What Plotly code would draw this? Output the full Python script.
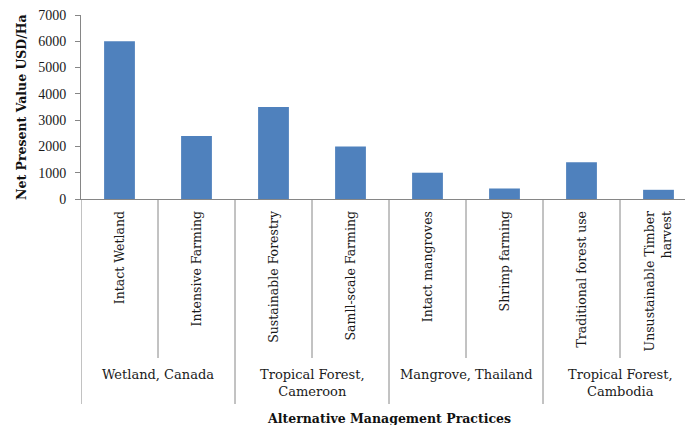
import plotly.graph_objects as go

# ---- data ----
groups = ["Wetland, Canada", "Tropical Forest,<br>Cameroon",
          "Mangrove, Thailand", "Tropical Forest,<br>Cambodia"]
practices = ["Intact Wetland", "Intensive Farming", "Sustainable Forestry",
             "Samll-scale Farming", "Intact mangroves", "Shrimp farming",
             "Traditional forest use", "Unsustainable Timber<br>harvest"]
group_size = [2, 2, 2, 2]
npv = [6000, 2400, 3500, 2000, 1000, 400, 1400, 350]
y_ticks = [0, 1000, 2000, 3000, 4000, 5000, 6000, 7000]

# ---- layout geometry (pixels) ----
W, H = 685, 425
ML, MT, MB, MR = 81, 15, 226, 0
plot_h = H - MT - MB          # 184
cat_px = 77.0                 # width of one category in the reference
plot_w = W - ML - MR
x_max = -0.5 + plot_w / cat_px

def py(px_below_axis):
    """paper y for a pixel offset below the x axis"""
    return -px_below_axis / plot_h

FONT = "DejaVu Serif"
AX = "#868686"

fig = go.Figure()
fig.add_trace(go.Bar(
    x=practices, y=npv,
    marker=dict(color="#4F81BD", line=dict(width=0)),
    width=0.4,
))

shapes = []
# item separators (short) and group dividers (long)
edges = [0]
for s in group_size:
    edges.append(edges[-1] + s)
group_edges = set(edges)
for i in range(len(practices) + 1):
    xb = i - 0.5
    length = 205 if i in group_edges else 159
    shapes.append(dict(type="line", xref="x", yref="paper",
                       x0=xb, x1=xb, y0=0, y1=py(length),
                       line=dict(color=AX, width=1)))

annotations = []
for gi, g in enumerate(groups):
    center = (edges[gi] + edges[gi + 1] - 1) / 2
    annotations.append(dict(
        x=center, xref="x", y=py(166), yref="paper",
        text=g, showarrow=False, xanchor="center", yanchor="top",
        font=dict(family=FONT, size=13, color="#1a1a1a"), align="center"))

annotations.append(dict(
    x=(len(practices) - 1) / 2, xref="x", y=py(219), yref="paper",
    text="<b>Alternative Management Practices</b>", showarrow=False,
    xanchor="center", yanchor="middle",
    font=dict(family=FONT, size=12.5, color="#111111")))
annotations.append(dict(
    x=-(ML - 21) / plot_w, xref="paper", y=0.5, yref="paper",
    text="<b>Net Present Value USD/Ha</b>", showarrow=False, textangle=-90,
    xanchor="center", yanchor="middle",
    font=dict(family=FONT, size=12.5, color="#111111")))

fig.update_layout(
    width=W, height=H,
    margin=dict(l=ML, r=MR, t=MT, b=MB, pad=0),
    paper_bgcolor="white", plot_bgcolor="white",
    showlegend=False,
    shapes=shapes, annotations=annotations,
    xaxis=dict(type="category", range=[-0.5, x_max], showgrid=False,
               showline=True, linecolor=AX, linewidth=1, ticks="",
               tickangle=-90, ticklabelstandoff=6, automargin=False,
               tickfont=dict(family=FONT, size=12.5, color="#1a1a1a")),
    yaxis=dict(range=[0, 7000], tickvals=y_ticks, showgrid=False,
               zeroline=False, showline=True, linecolor=AX, linewidth=1,
               ticks="outside", ticklen=5, tickcolor=AX, automargin=False,
               ticklabelstandoff=6,
               tickfont=dict(family="Liberation Serif", size=14,
                             color="#1a1a1a")),
)

fig.write_html("out.html")
